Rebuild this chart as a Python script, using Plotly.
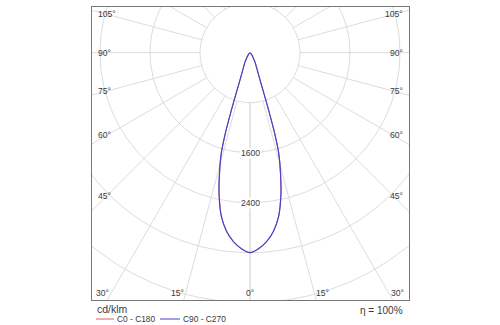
import numpy as np
import plotly.graph_objects as go

# Luminous intensity distribution (cd/klm) versus gamma angle (deg from nadir)
gamma = [0, 2.5, 5, 7.5, 10, 12.5, 15, 16, 17, 18, 19, 20, 22.5, 25, 27.5,
         30, 35, 40, 45, 50, 60, 70, 80, 90]
c0_c180 = [3200, 3140, 3035, 2880, 2650, 2290, 1850, 1660, 1350, 950, 650, 480,
           310, 230, 180, 130, 70, 40, 25, 15, 8, 5, 3, 2]
c90_c270 = [3200, 3140, 3035, 2880, 2650, 2290, 1850, 1660, 1350, 950, 650, 480,
            310, 230, 180, 130, 70, 40, 25, 15, 8, 5, 3, 2]

ring_values = [800, 1600, 2400, 3200, 4000, 4800]
ring_labels = [1600, 2400]
spoke_angles = list(range(0, 181, 15))
side_label_angles = [45, 60, 75, 90, 105]
bottom_label_angles = [0, 15, 30]
unit_text = "cd/klm"
efficiency_text = "η = 100%"
series_names = ["C0 - C180", "C90 - C270"]
series_colors = ["#e06060", "#4a40cc"]

# Plot area geometry: 16 cd/klm per pixel, pole placed near the top
SCALE = 16.0
W_PX, H_PX = 317, 293
POLE_X_PX, POLE_Y_PX = 158, 45.7
x_range = [-POLE_X_PX * SCALE, (W_PX - POLE_X_PX) * SCALE]
y_range = [-(H_PX - POLE_Y_PX) * SCALE, POLE_Y_PX * SCALE]

GRID = "#dcdcdc"
TEXT = "#3a3a3a"
FONT = "Liberation Sans, Arial, sans-serif"
LABEL_SIZE = 8.6


def to_xy(angles_deg, values, side):
    a = np.radians(np.asarray(angles_deg, dtype=float))
    v = np.asarray(values, dtype=float)
    return side * v * np.sin(a), -v * np.cos(a)


def closed_curve(values):
    xl, yl = to_xy(gamma[::-1], values[::-1], -1)
    xr, yr = to_xy(gamma[1:], values[1:], 1)
    return np.concatenate([xl, xr]), np.concatenate([yl, yr])


fig = go.Figure()

# Concentric intensity rings
t = np.linspace(0, 2 * np.pi, 361)
for r in ring_values:
    fig.add_trace(go.Scatter(x=r * np.cos(t), y=r * np.sin(t), mode="lines",
                             line=dict(color=GRID, width=1), hoverinfo="skip",
                             showlegend=False))

# Radial spokes every 15 degrees, starting at the innermost ring
r_in, r_out = ring_values[0], 6000
for ang in spoke_angles:
    for side in (-1, 1):
        xs, ys = to_xy([ang, ang], [r_in, r_out], side)
        fig.add_trace(go.Scatter(x=xs, y=ys, mode="lines",
                                 line=dict(color=GRID, width=1),
                                 hoverinfo="skip", showlegend=False))

# Distribution curves
for name, vals, col, w in [(series_names[0], c0_c180, series_colors[0], 1.0),
                           (series_names[1], c90_c270, series_colors[1], 1.2)]:
    cx, cy = closed_curve(vals)
    fig.add_trace(go.Scatter(x=cx, y=cy, mode="lines", name=name,
                             line=dict(color=col, width=w, shape="spline",
                                       smoothing=0.6),
                             showlegend=False))

annotations = []


def label(x, y, text, xanchor="center", size=LABEL_SIZE, ref="data", bg=None):
    a = dict(x=x, y=y, text=text, showarrow=False, xanchor=xanchor,
             yanchor="middle", font=dict(size=size, color=TEXT, family=FONT))
    if ref == "data":
        a.update(xref="x", yref="y")
    else:
        a.update(xref="paper", yref="paper")
    if bg:
        a.update(bgcolor=bg, borderpad=0)
    annotations.append(a)


# Ring value labels on the nadir axis
for v in ring_labels:
    label(0, -v, str(v), bg="white")

# Angle labels along the left and right frame edges
d_lab = 143 * SCALE
for ang in side_label_angles:
    a = np.radians(ang)
    y = -d_lab * np.cos(a) / np.sin(a)
    label(x_range[0] + 4 * SCALE, y, f"{ang}°", xanchor="left")
    label(x_range[1] - 4 * SCALE, y, f"{ang}°", xanchor="right")

# Angle labels along the bottom edge
y_bot = y_range[0] + 7 * SCALE
for ang in bottom_label_angles:
    xo = -y_bot * np.tan(np.radians(ang))
    if ang == 0:
        label(0, y_bot, "0°")
    else:
        label(-xo, y_bot, f"{ang}°", xanchor="right")
        label(xo, y_bot, f"{ang}°", xanchor="left")


def px_x(p):
    return (p - 92) / W_PX


def px_y(p):
    return (300 - p) / H_PX


# Unit caption, efficiency note and hand-built legend below the frame
label(px_x(95), px_y(309), unit_text, xanchor="left", size=10.5, ref="paper")
label(px_x(405), px_y(311), efficiency_text, xanchor="right", size=10,
      ref="paper")

shapes = []
legend_pos = [(96, 114), (160, 180)]
for (x0, x1), name, col in zip(legend_pos, series_names, series_colors):
    shapes.append(dict(type="line", xref="paper", yref="paper",
                       x0=px_x(x0), x1=px_x(x1), y0=px_y(319), y1=px_y(319),
                       line=dict(color=col, width=1)))
    label(px_x(x1 + 1), px_y(319), name, xanchor="left", size=8.4, ref="paper")

fig.update_layout(
    width=500, height=325,
    margin=dict(l=92, r=91, t=7, b=25),
    paper_bgcolor="white", plot_bgcolor="white",
    xaxis=dict(range=x_range, showgrid=False, zeroline=False,
               showticklabels=False, ticks="", showline=True, mirror=True,
               linecolor="#777777", linewidth=1, fixedrange=True),
    yaxis=dict(range=y_range, showgrid=False, zeroline=False,
               showticklabels=False, ticks="", showline=True, mirror=True,
               linecolor="#777777", linewidth=1, fixedrange=True),
    annotations=annotations,
    shapes=shapes,
    showlegend=False,
)

fig.write_html("out.html")
